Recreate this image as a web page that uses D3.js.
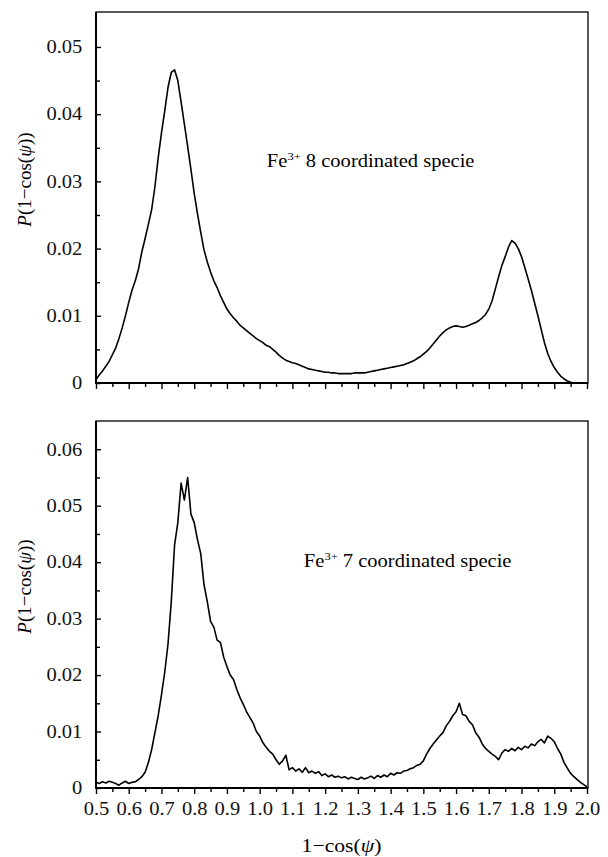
<!DOCTYPE html>
<html>
<head>
<meta charset="utf-8">
<script src="https://cdn.jsdelivr.net/npm/d3@7"></script>
<style>
  body { margin: 0; background: #fff; }
  svg { display: block; font-family: "Liberation Serif", "Times New Roman", serif; }
  .tick line { stroke: #000; stroke-width: 1.4; }
</style>
</head>
<body>
<div id="chart"></div>
<script>
// x grid of the sampled distributions (1 - cos(psi)), one value per 0.01
const xStart = 0.5;
const xStep = 0.01;

// Fe3+ 8 coordinated specie
const coord8Values = [
  0.0005, 0.0012, 0.0018, 0.0025, 0.0032, 0.0042, 0.0052, 0.0066, 0.0082, 0.0100,
  0.0120, 0.0138, 0.0152, 0.0170, 0.0195, 0.0215, 0.0236, 0.0258, 0.0292, 0.0335,
  0.0372, 0.0405, 0.0440, 0.0462, 0.0466, 0.0450, 0.0418, 0.0385, 0.0352, 0.0318,
  0.0282, 0.0252, 0.0224, 0.0198, 0.0180, 0.0165, 0.0152, 0.0142, 0.0130, 0.0120,
  0.0110, 0.0103, 0.0097, 0.0092, 0.0086, 0.0082, 0.0078, 0.0074, 0.0070, 0.0066,
  0.0063, 0.0060, 0.0056, 0.0054, 0.0050, 0.0046, 0.0041, 0.0037, 0.0034, 0.0032,
  0.0030, 0.0029, 0.0027, 0.0025, 0.0023, 0.0021, 0.0020, 0.0019, 0.0018, 0.0017,
  0.0016, 0.0016, 0.0015, 0.0015, 0.0014, 0.0014, 0.0014, 0.0014, 0.0014, 0.0015,
  0.0015, 0.0015, 0.0015, 0.0016, 0.0017, 0.0018, 0.0019, 0.0020, 0.0021, 0.0022,
  0.0023, 0.0024, 0.0025, 0.0026, 0.0027, 0.0029, 0.0031, 0.0033, 0.0036, 0.0039,
  0.0043, 0.0047, 0.0052, 0.0058, 0.0064, 0.0070, 0.0075, 0.0079, 0.0082, 0.0084,
  0.0085, 0.0084, 0.0083, 0.0084, 0.0086, 0.0088, 0.0090, 0.0093, 0.0097, 0.0102,
  0.0110, 0.0122, 0.0140, 0.0158, 0.0175, 0.0188, 0.0202, 0.0212, 0.0208, 0.0200,
  0.0188, 0.0172, 0.0155, 0.0138, 0.0119, 0.0100, 0.0080, 0.0060, 0.0044, 0.0032,
  0.0023, 0.0016, 0.0010, 0.0006, 0.0003, 0.0001, 0.0000, 0.0000, 0.0000, 0.0000,
  0.0000
];

// Fe3+ 7 coordinated specie (noisy trace)
const coord7Values = [
  0.0010, 0.0008, 0.0011, 0.0009, 0.0012, 0.0010, 0.0008, 0.0005, 0.0009, 0.0012,
  0.0008, 0.0010, 0.0011, 0.0015, 0.0020, 0.0028, 0.0045, 0.0068, 0.0098, 0.0128,
  0.0165, 0.0205, 0.0255, 0.0330, 0.0430, 0.0470, 0.0540, 0.0510, 0.0550, 0.0485,
  0.0470, 0.0440, 0.0415, 0.0360, 0.0330, 0.0295, 0.0285, 0.0262, 0.0258, 0.0232,
  0.0215, 0.0200, 0.0192, 0.0175, 0.0160, 0.0148, 0.0135, 0.0125, 0.0115, 0.0100,
  0.0092, 0.0080, 0.0072, 0.0065, 0.0060, 0.0050, 0.0042, 0.0048, 0.0058, 0.0032,
  0.0036, 0.0030, 0.0034, 0.0028, 0.0036, 0.0027, 0.0030, 0.0026, 0.0029, 0.0022,
  0.0025, 0.0020, 0.0023, 0.0019, 0.0021, 0.0018, 0.0020, 0.0016, 0.0019, 0.0017,
  0.0015, 0.0019, 0.0016, 0.0018, 0.0021, 0.0017, 0.0022, 0.0019, 0.0023, 0.0020,
  0.0026, 0.0023, 0.0027, 0.0026, 0.0030, 0.0031, 0.0034, 0.0036, 0.0040, 0.0042,
  0.0048, 0.0060, 0.0070, 0.0078, 0.0085, 0.0092, 0.0098, 0.0110, 0.0118, 0.0128,
  0.0135, 0.0150, 0.0130, 0.0128, 0.0118, 0.0112, 0.0098, 0.0090, 0.0078, 0.0070,
  0.0065, 0.0060, 0.0056, 0.0050, 0.0062, 0.0068, 0.0065, 0.0070, 0.0066, 0.0072,
  0.0068, 0.0074, 0.0071, 0.0078, 0.0075, 0.0082, 0.0086, 0.0080, 0.0092, 0.0088,
  0.0082, 0.0070, 0.0060, 0.0045, 0.0035, 0.0026, 0.0020, 0.0015, 0.0010, 0.0006,
  0.0002
];

// tick labels
const xTickValues = [0.5, 0.6, 0.7, 0.8, 0.9, 1.0, 1.1, 1.2, 1.3, 1.4, 1.5, 1.6, 1.7, 1.8, 1.9, 2.0];
const xTickLabels = ["0.5", "0.6", "0.7", "0.8", "0.9", "1.0", "1.1", "1.2", "1.3", "1.4", "1.5", "1.6", "1.7", "1.8", "1.9", "2.0"];
const yTicksTop = [0, 0.01, 0.02, 0.03, 0.04, 0.05];
const yTicksBottom = [0, 0.01, 0.02, 0.03, 0.04, 0.05, 0.06];

const serif = "'Liberation Serif', 'Times New Roman', serif";

const svg = d3.select("#chart").append("svg")
  .attr("width", 608)
  .attr("height", 857);

// horizontal squeeze of the original figure's type
const stretch = "scale(1.14,1)";

const x = d3.scaleLinear().domain([0.5, 2.0]).range([96, 587]);

function styleTickText(sel) {
  sel.attr("font-family", serif)
    .style("font-family", serif)
    .style("font-size", "18px")
    .attr("fill", "#111");
}

function drawPanel(values, yMax, yTicks, top, bottom, showLabels, label, labelPos) {
  const y = d3.scaleLinear().domain([0, yMax]).range([bottom, top]);
  const g = svg.append("g");

  // minor ticks every 0.05 / 0.005
  const xMinor = d3.range(0.55, 2.0, 0.1);
  const yMinor = yTicks.slice(0, -1).map(d => d + 0.005).filter(d => d < yMax);

  g.append("g")
    .attr("transform", "translate(0," + bottom + ")")
    .call(d3.axisBottom(x).tickValues(xMinor).tickSize(4).tickFormat(""))
    .call(a => a.select(".domain").remove());

  const xAxis = g.append("g")
    .attr("transform", "translate(0," + bottom + ")")
    .call(d3.axisBottom(x).tickValues(xTickValues).tickSize(6)
      .tickFormat((d, i) => showLabels ? xTickLabels[i] : ""))
    .call(a => a.select(".domain").remove());
  xAxis.call(styleTickText);
  xAxis.selectAll("text").call(styleTickText).attr("y", 14).attr("transform", stretch);

  g.append("g")
    .attr("transform", "translate(96,0)")
    .call(d3.axisLeft(y).tickValues(yMinor).tickSize(-4).tickFormat(""))
    .call(a => a.select(".domain").remove());

  const yAxis = g.append("g")
    .attr("transform", "translate(96,0)")
    .call(d3.axisLeft(y).tickValues(yTicks).tickSize(-5)
      .tickFormat(d => d === 0 ? "0" : d3.format(".2f")(d)))
    .call(a => a.select(".domain").remove());
  yAxis.call(styleTickText);
  yAxis.selectAll("text").call(styleTickText).attr("x", -12).attr("transform", stretch);

  // frame
  g.append("rect")
    .attr("x", 96).attr("y", top)
    .attr("width", 588 - 96).attr("height", bottom - top)
    .attr("fill", "none").attr("stroke", "#000").attr("stroke-width", 1.3);
  g.append("path")
    .attr("d", "M96," + top + "V" + bottom + "H588")
    .attr("fill", "none").attr("stroke", "#000").attr("stroke-width", 2);

  // curve
  const line = d3.line()
    .x((d, i) => x(xStart + i * xStep))
    .y(d => y(d));
  g.append("path")
    .datum(values)
    .attr("d", line)
    .attr("fill", "none")
    .attr("stroke", "#000")
    .attr("stroke-width", 1.6)
    .attr("stroke-linejoin", "round");

  // y axis title
  const yt = g.append("text")
    .attr("transform", "translate(31," + ((top + bottom) / 2 - 18) + ") rotate(-90)")
    .attr("text-anchor", "middle")
    .style("font-family", serif)
    .style("font-size", "19px");
  yt.append("tspan").style("font-style", "italic").text("P");
  yt.append("tspan").text("(1\u2212cos(");
  yt.append("tspan").style("font-style", "italic").text("\u03c8");
  yt.append("tspan").text("))");

  // species annotation
  const ann = g.append("text")
    .attr("transform", "translate(" + x(labelPos[0]) + "," + y(labelPos[1]) + ") " + stretch)
    .style("font-family", serif)
    .style("font-size", "18px");
  ann.append("tspan").text("Fe");
  ann.append("tspan").attr("dy", -7).style("font-size", "11px").text("3+");
  ann.append("tspan").attr("dy", 7).text(" " + label);

  return y;
}

drawPanel(coord8Values, 0.0552, yTicksTop, 12, 383, false, "8 coordinated specie", [1.022, 0.0321]);
drawPanel(coord7Values, 0.065, yTicksBottom, 421, 788, true, "7 coordinated specie", [1.135, 0.0391]);

// x axis title
const xt = svg.append("text")
  .attr("transform", "translate(" + x(1.25) + ",852) " + stretch)
  .attr("text-anchor", "middle")
  .style("font-family", serif)
  .style("font-size", "19px");
xt.append("tspan").text("1\u2212cos(");
xt.append("tspan").style("font-style", "italic").text("\u03c8");
xt.append("tspan").text(")");
</script>
</body>
</html>
